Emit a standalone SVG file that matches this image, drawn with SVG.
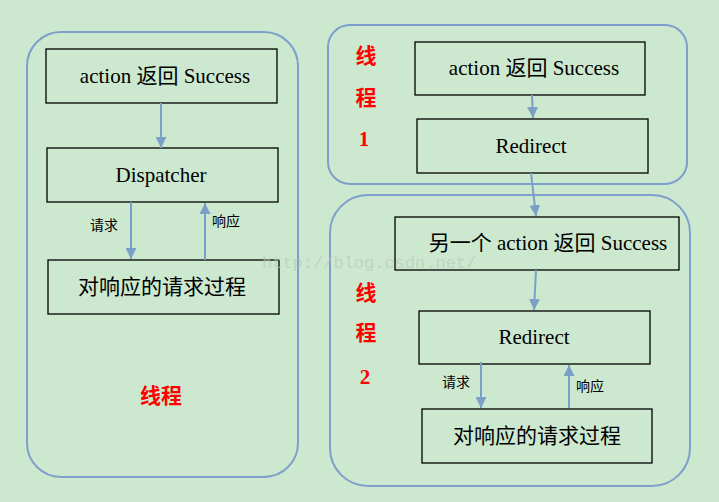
<svg xmlns="http://www.w3.org/2000/svg" width="719" height="502" viewBox="0 0 719 502">
<style>
.bg{fill:#cce8cf}
.cont{fill:none;stroke:#7e9fcb;stroke-width:2}
.box{fill:none;stroke:#000;stroke-width:1.3}
.ser{font-family:"Liberation Serif","Noto Sans CJK SC",serif;font-size:21px;fill:#000;text-anchor:middle}
.cjk{font-family:"Noto Sans CJK SC",sans-serif;font-size:21px;fill:#000;text-anchor:middle}
.lab{font-family:"Noto Sans CJK SC",sans-serif;font-size:14px;fill:#000;text-anchor:middle}
.red{font-family:"Noto Sans CJK SC",sans-serif;font-size:21px;font-weight:bold;fill:#ff0000;text-anchor:middle}
.redn{font-family:"Liberation Serif",serif;font-size:21px;font-weight:bold;fill:#ff0000;text-anchor:middle}
.conn{stroke:#7ba0c8;stroke-width:2;fill:none;marker-end:url(#ah)}
.wm{font-family:"Liberation Mono",monospace;font-size:17px;fill:#b8c8b8;opacity:0.6}
</style>
<defs>
<marker id="ah" viewBox="0 0 10 10" refX="10" refY="5" markerWidth="5.5" markerHeight="5.5" orient="auto" markerUnits="strokeWidth">
<path d="M0,0 L10,5 L0,10 z" fill="#7ba0c8"/>
</marker>
</defs>
<rect class="bg" x="0" y="0" width="719" height="502"/>
<g id="thread">
<rect class="cont" x="27" y="32" width="271" height="445" rx="34"/>
<text class="red" x="161" y="403">线程</text>
</g>
<g id="thread1">
<rect class="cont" x="328" y="25" width="359" height="159" rx="22"/>
<text class="red" x="366" y="63">线</text>
<text class="red" x="366" y="105">程</text>
<text class="redn" x="364" y="146">1</text>
</g>
<g id="thread2">
<rect class="cont" x="330" y="195" width="360" height="291" rx="38"/>
<text class="red" x="366" y="300">线</text>
<text class="red" x="366" y="340">程</text>
<text class="redn" x="365" y="384">2</text>
</g>
<g id="l-success">
<rect class="box" x="46" y="49" width="231" height="54"/>
<text class="ser" x="165" y="83">action 返回 Success</text>
</g>
<g id="l-dispatcher">
<rect class="box" x="47" y="148" width="231" height="54"/>
<text class="ser" x="161" y="182">Dispatcher</text>
</g>
<g id="l-process">
<rect class="box" x="48" y="260" width="231" height="54"/>
<text class="cjk" x="162" y="294">对响应的请求过程</text>
</g>
<g id="r-success">
<rect class="box" x="415" y="42" width="230" height="53"/>
<text class="ser" x="534" y="75">action 返回 Success</text>
</g>
<g id="r-redirect1">
<rect class="box" x="417" y="119" width="231" height="54"/>
<text class="ser" x="531" y="153">Redirect</text>
</g>
<g id="r-another">
<rect class="box" x="395" y="217" width="284" height="53"/>
<text class="ser" x="548" y="250">另一个 action 返回 Success</text>
</g>
<g id="r-redirect2">
<rect class="box" x="419" y="311" width="231" height="53"/>
<text class="ser" x="534" y="344">Redirect</text>
</g>
<g id="r-process">
<rect class="box" x="422" y="409" width="230" height="54"/>
<text class="cjk" x="537" y="443">对响应的请求过程</text>
</g>
<g id="connectors">
<line class="conn" x1="161" y1="103" x2="161" y2="148"/>
<line class="conn" x1="131" y1="202" x2="131" y2="259"/>
<line class="conn" x1="205" y1="260" x2="205" y2="203"/>
<line class="conn" x1="532" y1="95" x2="533" y2="118"/>
<line class="conn" x1="531" y1="173" x2="536" y2="216"/>
<line class="conn" x1="536" y1="270" x2="534" y2="310"/>
<line class="conn" x1="481" y1="362" x2="481" y2="408"/>
<line class="conn" x1="569" y1="408" x2="569" y2="365"/>
<text class="lab" x="104" y="230">请求</text>
<text class="lab" x="226" y="226">响应</text>
<text class="lab" x="456" y="387">请求</text>
<text class="lab" x="590" y="391">响应</text>
</g>
<text class="wm" x="262" y="268">http://blog.csdn.net/</text>
</svg>
